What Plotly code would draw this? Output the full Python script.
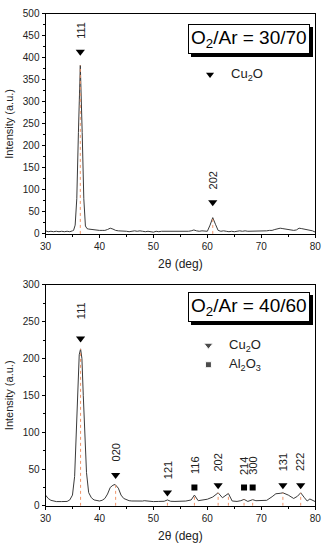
import plotly.graph_objects as go

# ---------------- data: O2/Ar = 30/70 ----------------
x_top = [30, 30.5, 31, 31.5, 32, 32.5, 33, 33.5, 34, 34.5, 35, 35.2, 35.5, 35.8, 36.1, 36.45,
         36.8, 37.1, 37.4, 37.7, 38, 38.5, 39, 39.5, 40, 40.5, 41, 41.5, 42, 42.5, 43, 43.5,
         44, 44.5, 45, 45.5, 46, 46.5, 47, 47.5, 48, 48.5, 49, 49.5, 50, 50.5, 51, 51.5, 52,
         52.5, 53, 53.5, 54, 54.5, 55, 55.5, 56, 56.5, 57, 57.5, 58, 58.5, 59, 59.5, 60, 60.5,
         61, 61.5, 62, 62.5, 63, 63.5, 64, 64.5, 65, 65.5, 66, 66.5, 67, 67.5, 68, 68.5, 69,
         69.5, 70, 70.5, 71, 71.5, 72, 72.5, 73, 73.5, 74, 74.5, 75, 75.5, 76, 76.5, 77, 77.5,
         78, 78.5, 79, 79.5, 80]
y_top = [7, 5, 6, 5, 6, 5, 6, 5, 6, 5, 7, 8, 20, 80, 230, 383,
         230, 80, 18, 12, 11, 10, 9, 9, 8, 8, 8, 10, 13, 11, 8, 7,
         7, 6, 6, 5, 6, 7, 6, 7, 6, 5, 6, 5, 4, 6, 5, 6, 6,
         5, 6, 5, 6, 6, 5, 6, 5, 6, 7, 9, 7, 6, 7, 6, 6, 20,
         37, 22, 8, 6, 7, 6, 5, 6, 5, 6, 7, 6, 7, 6, 6, 7, 6,
         6, 7, 7, 7, 8, 8, 10, 12, 13, 12, 11, 9, 8, 8, 9, 13, 12,
         11, 10, 8, 7, 4]

top_peaks_x = [36.45, 61]
top_peaks_y = [383, 37]
top_labels = ["111", "202"]
top_marker_y = [414, 72]
top_label_y = [462, 121]

# ---------------- data: O2/Ar = 40/60 ----------------
x_bot = [30, 30.5, 31, 31.5, 32, 33, 34, 34.5, 35, 35.4, 35.7, 36.0, 36.25, 36.5, 36.75,
         37.0, 37.3, 37.6, 38, 38.5, 39, 39.5, 40, 40.5, 41, 41.5, 42, 42.5, 42.9, 43.5, 44,
         44.5, 45, 45.5, 46, 47, 48, 48.3, 49, 50, 51, 52, 52.6, 53.2, 54, 55, 56, 57, 57.6,
         58.3, 59, 60, 61, 62, 62.8, 63.9, 64.6, 65.5, 66.2, 66.8, 67.5, 68.4, 69, 70, 71,
         72, 72.7, 73.5, 74, 75, 76, 76.7, 77.3, 78, 78.5, 79, 79.5, 80]
y_bot = [14.6, 10, 7.5, 6.5, 5.8, 5.8, 6, 8, 14.6, 40, 100, 165, 205, 213, 200,
         150, 95, 45, 18, 11, 8, 7, 6.6, 7.5, 10, 16, 25, 28, 29, 24, 14.6,
         10, 8.4, 7, 6.6, 6.2, 6.5, 7, 6.2, 5.8, 6, 6.2, 8, 6.2, 6, 6.2, 6.5, 8, 14.6,
         7, 8, 9, 12, 17.7, 11, 16.8, 6.6, 6, 7, 8.8, 6, 8.4, 7, 7, 7.5,
         12.4, 16.4, 17, 17.7, 14.6, 10, 13, 17.7, 11, 6.6, 9.3, 7, 5.8]

bot_peaks_x = [36.5, 43.0, 52.6, 57.6, 62.0, 63.9, 66.8, 68.4, 74.0, 77.3]
bot_peaks_y = [213, 28, 8, 14.6, 17.7, 16.8, 8.8, 8.4, 17.7, 17.7]

cu_x = [36.5, 43.0, 52.6, 62.0, 74.0, 77.3]
cu_y = [227, 42, 18, 28, 28, 28]
cu_labels = ["111", "020", "121", "202", "131", "222"]
cu_label_y = [265, 72, 49, 59, 59, 59]

al_x = [57.6, 66.8, 68.4]
al_y = [25, 25, 25]
al_labels = ["116", "214", "300"]
al_label_y = [56, 54, 54]

FONT = "Liberation Sans, Arial, sans-serif"
LINE = "#3a3a3a"
DASH = "#F0956A"
TXT = "#222"

fig = go.Figure()

# curves
fig.add_trace(go.Scatter(x=x_top, y=y_top, mode="lines", line=dict(color=LINE, width=1),
                         xaxis="x", yaxis="y", showlegend=False))
fig.add_trace(go.Scatter(x=x_bot, y=y_bot, mode="lines", line=dict(color=LINE, width=1),
                         xaxis="x2", yaxis="y2", showlegend=False))

# dashed peak lines
for px, py in zip(top_peaks_x, top_peaks_y):
    fig.add_trace(go.Scatter(x=[px, px], y=[0, py], mode="lines",
                             line=dict(color=DASH, width=1, dash="dot"),
                             xaxis="x", yaxis="y", showlegend=False))
for px, py in zip(bot_peaks_x, bot_peaks_y):
    fig.add_trace(go.Scatter(x=[px, px], y=[0, py], mode="lines",
                             line=dict(color=DASH, width=1, dash="dot"),
                             xaxis="x2", yaxis="y2", showlegend=False))

# markers
fig.add_trace(go.Scatter(x=top_peaks_x, y=top_marker_y, mode="markers",
                         marker=dict(symbol="triangle-down", size=8, color="black"),
                         xaxis="x", yaxis="y", showlegend=False))
fig.add_trace(go.Scatter(x=cu_x, y=cu_y, mode="markers",
                         marker=dict(symbol="triangle-down", size=8, color="black"),
                         xaxis="x2", yaxis="y2", showlegend=False))
fig.add_trace(go.Scatter(x=al_x, y=al_y, mode="markers",
                         marker=dict(symbol="square", size=6, color="black"),
                         xaxis="x2", yaxis="y2", showlegend=False))

# legend-like symbols
fig.add_trace(go.Scatter(x=[60.5], y=[362], mode="markers",
                         marker=dict(symbol="triangle-down", size=7, color="black"),
                         xaxis="x", yaxis="y", showlegend=False))
fig.add_trace(go.Scatter(x=[60.2, 60.2], y=[218, 191.5], mode="markers",
                         marker=dict(symbol=["triangle-down", "square"], size=[8, 6], color="black"),
                         xaxis="x2", yaxis="y2", showlegend=False))

annotations = []
for px, ly, lab in zip(top_peaks_x, top_label_y, top_labels):
    annotations.append(dict(x=px, y=ly, xref="x", yref="y", text=lab, showarrow=False,
                            textangle=-90, font=dict(size=11, color=TXT, family=FONT)))
for px, ly, lab in zip(cu_x + al_x, cu_label_y + al_label_y, cu_labels + al_labels):
    annotations.append(dict(x=px, y=ly, xref="x2", yref="y2", text=lab, showarrow=False,
                            textangle=-90, font=dict(size=11, color=TXT, family=FONT)))

annotations.append(dict(x=64, y=362, xref="x", yref="y", text="Cu<sub>2</sub>O", showarrow=False,
                        xanchor="left", font=dict(size=13, color=TXT, family=FONT)))
annotations.append(dict(x=63.7, y=218, xref="x2", yref="y2", text="Cu<sub>2</sub>O", showarrow=False,
                        xanchor="left", font=dict(size=13, color=TXT, family=FONT)))
annotations.append(dict(x=63.7, y=191.5, xref="x2", yref="y2", text="Al<sub>2</sub>O<sub>3</sub>",
                        showarrow=False, xanchor="left", font=dict(size=13, color=TXT, family=FONT)))

# boxed titles with shadow
for txt, yc in [("O<sub>2</sub>/Ar = 30/70", 0.9387), ("O<sub>2</sub>/Ar = 40/60", 0.4404)]:
    annotations.append(dict(x=0.77, y=yc, xref="paper", yref="paper", text=txt, showarrow=False,
                            xanchor="center", yanchor="middle",
                            xshift=3, yshift=-3, bgcolor="black", bordercolor="black", borderwidth=1,
                            borderpad=2, font=dict(size=19, color="black", family=FONT)))
    annotations.append(dict(x=0.77, y=yc, xref="paper", yref="paper", text=txt, showarrow=False,
                            xanchor="center", yanchor="middle",
                            bgcolor="white", bordercolor="black", borderwidth=1,
                            borderpad=2, font=dict(size=19, color="black", family=FONT)))

axis_common = dict(showline=True, linecolor="black", linewidth=1, mirror=True, ticks="outside",
                   ticklen=3, tickcolor="black", showgrid=False, zeroline=False,
                   tickfont=dict(size=10, color=TXT, family=FONT))
minor_x = dict(ticks="outside", ticklen=2, tickcolor="black", dtick=5)
minor_y = dict(ticks="outside", ticklen=2, tickcolor="black", dtick=25)
xtitle = dict(text="2θ (deg)", font=dict(size=12, color=TXT, family=FONT), standoff=8)
ytitle = dict(text="Intensity (a.u.)", font=dict(size=11, color=TXT, family=FONT), standoff=6)

xdom = [41 / 328, 321 / 328]
fig.update_layout(
    width=328, height=550, margin=dict(l=0, r=0, t=0, b=0),
    paper_bgcolor="white", plot_bgcolor="white",
    xaxis=dict(domain=xdom, range=[30, 80], dtick=10, anchor="y", minor=minor_x, title=xtitle, **axis_common),
    yaxis=dict(domain=[317 / 550, 542 / 550], range=[0, 500], dtick=50, anchor="x", minor=minor_y,
               title=ytitle, **axis_common),
    xaxis2=dict(domain=xdom, range=[30, 80], dtick=10, anchor="y2", minor=minor_x, title=xtitle, **axis_common),
    yaxis2=dict(domain=[39 / 550, 265 / 550], range=[0, 300], dtick=50, anchor="x2", minor=minor_y,
                title=ytitle, **axis_common),
    annotations=annotations,
)

fig.write_html("out.html", config={"displayModeBar": False},
               post_script="document.body.style.margin='0';")
